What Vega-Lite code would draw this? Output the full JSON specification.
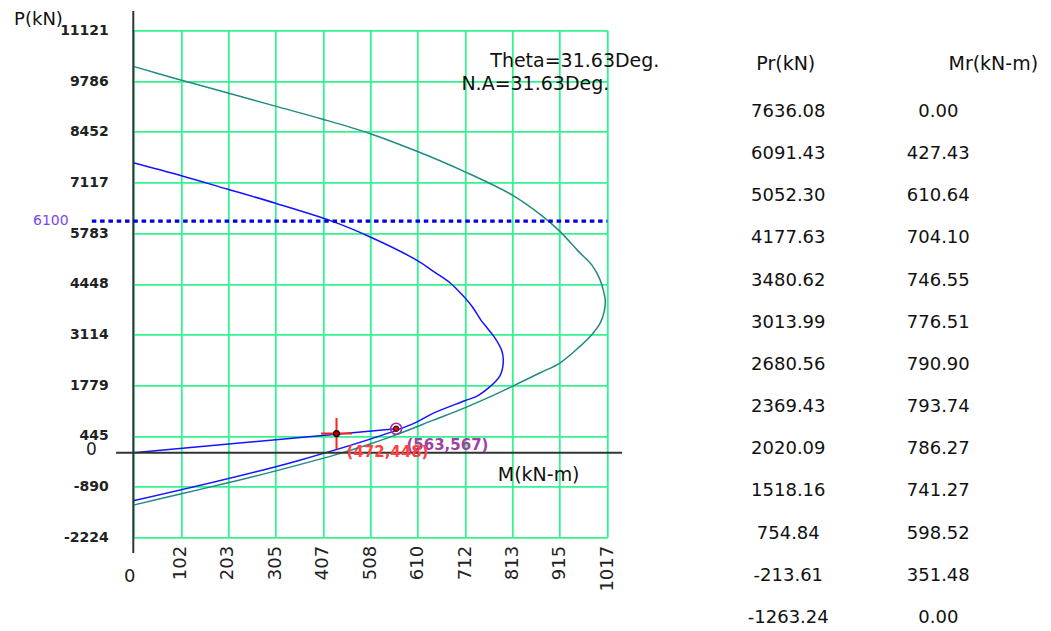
{
  "$schema": "https://vega.github.io/schema/vega-lite/v6.json",
  "background": "white",
  "padding": {"left": 13.3, "top": 9.3, "right": 0, "bottom": 0},
  "bounds": "flush",
  "spacing": 181,
  "config": {"view": {"stroke": null}, "font": "DejaVu Sans"},
  "datasets": {
    "nominal": [
      {"M": 0, "P": 10171}, {"M": 101.5, "P": 9815}, {"M": 203.2, "P": 9470}, {"M": 304.7, "P": 9125},
      {"M": 406.6, "P": 8780}, {"M": 508.5, "P": 8400}, {"M": 610, "P": 7930}, {"M": 711.7, "P": 7396},
      {"M": 813.2, "P": 6783}, {"M": 873, "P": 6275}, {"M": 914.7, "P": 5835}, {"M": 955, "P": 5302},
      {"M": 984, "P": 4940}, {"M": 1000, "P": 4598}, {"M": 1009, "P": 4256}, {"M": 1012.7, "P": 3993},
      {"M": 1010.5, "P": 3730}, {"M": 1002, "P": 3422}, {"M": 984, "P": 3116}, {"M": 959, "P": 2809},
      {"M": 916, "P": 2369}, {"M": 873, "P": 2106}, {"M": 814, "P": 1756}, {"M": 759, "P": 1438},
      {"M": 711, "P": 1184}, {"M": 644, "P": 860}, {"M": 562, "P": 466}, {"M": 500, "P": 200},
      {"M": 436.6, "P": -42}, {"M": 304, "P": -482}, {"M": 203, "P": -790}, {"M": 101, "P": -1085},
      {"M": 0, "P": -1377}
    ],
    "design": [
      {"M": 0, "P": 7636.08}, {"M": 101.5, "P": 7300}, {"M": 203, "P": 6935}, {"M": 305, "P": 6570},
      {"M": 427.43, "P": 6091.43}, {"M": 508.5, "P": 5680}, {"M": 610.64, "P": 5052.3}, {"M": 644, "P": 4775},
      {"M": 680, "P": 4470}, {"M": 704.1, "P": 4177.63}, {"M": 727, "P": 3850}, {"M": 746.55, "P": 3480.62},
      {"M": 759, "P": 3290}, {"M": 776.51, "P": 3013.99}, {"M": 790.9, "P": 2680.56}, {"M": 793.74, "P": 2369.43},
      {"M": 786.27, "P": 2020.09}, {"M": 741.27, "P": 1518.16}, {"M": 711, "P": 1370}, {"M": 644, "P": 1045},
      {"M": 598.52, "P": 754.84}, {"M": 351.48, "P": -213.61}, {"M": 0, "P": -1263.24}
    ],
    "load": [{"M": 0, "P": 0}, {"M": 564, "P": 634}],
    "table": [
      {"row": 1, "Pr": "7636.08", "Mr": "0.00"},
      {"row": 2, "Pr": "6091.43", "Mr": "427.43"},
      {"row": 3, "Pr": "5052.30", "Mr": "610.64"},
      {"row": 4, "Pr": "4177.63", "Mr": "704.10"},
      {"row": 5, "Pr": "3480.62", "Mr": "746.55"},
      {"row": 6, "Pr": "3013.99", "Mr": "776.51"},
      {"row": 7, "Pr": "2680.56", "Mr": "790.90"},
      {"row": 8, "Pr": "2369.43", "Mr": "793.74"},
      {"row": 9, "Pr": "2020.09", "Mr": "786.27"},
      {"row": 10, "Pr": "1518.16", "Mr": "741.27"},
      {"row": 11, "Pr": "754.84", "Mr": "598.52"},
      {"row": 12, "Pr": "-213.61", "Mr": "351.48"},
      {"row": 13, "Pr": "-1263.24", "Mr": "0.00"}
    ]
  },
  "hconcat": [
    {
      "width": 474,
      "height": 507,
      "layer": [
        {
          "data": {"name": "nominal"},
          "mark": {"type": "line", "color": "#208a84", "strokeWidth": 1.5, "interpolate": "catmull-rom"},
          "encoding": {
            "x": {
              "field": "M", "type": "quantitative",
              "scale": {"domain": [0, 1017], "nice": false, "zero": false},
              "axis": {
                "values": [0, 102, 203, 305, 407, 508, 610, 712, 813, 915, 1017],
                "labelExpr": "datum.value == 0 ? '' : '' + datum.value",
                "labelAngle": 270, "labelAlign": "right", "labelBaseline": "middle",
                "labelFont": "DejaVu Sans", "labelFontSize": 18, "labelColor": "#222", "labelPadding": 8,
                "labelOverlap": false, "labelFlush": false,
                "ticks": false, "domain": false,
                "grid": true, "gridColor": "#33f28f", "gridWidth": 1.8, "gridOpacity": 1,
                "title": "M(kN-m)", "titleX": 364, "titleY": -62.7, "titleAlign": "left", "titleBaseline": "middle",
                "titleAngle": 0, "titleFont": "DejaVu Sans", "titleFontSize": 19, "titleFontWeight": "normal", "titleColor": "#111"
              }
            },
            "y": {
              "field": "P", "type": "quantitative",
              "scale": {"domain": [-2224, 11121], "nice": false, "zero": false},
              "axis": {
                "values": [-2224, -890, 445, 1779, 3114, 4448, 5783, 7117, 8452, 9786, 11121],
                "labelExpr": "'' + datum.value",
                "labelFont": "DejaVu Sans", "labelFontWeight": "bold", "labelFontSize": 14, "labelColor": "#222",
                "labelPadding": 25, "labelOverlap": false, "labelFlush": false,
                "ticks": false, "domain": false,
                "grid": true, "gridColor": "#33f28f", "gridWidth": 1.8, "gridOpacity": 1,
                "title": "P(kN)", "titleX": -119.7, "titleY": -10.4, "titleAngle": 0, "titleAlign": "left",
                "titleBaseline": "middle", "titleFont": "DejaVu Sans", "titleFontSize": 18, "titleFontWeight": "normal", "titleColor": "#111"
              }
            },
            "order": {"field": "P", "sort": "descending"}
          }
        },
        {
          "data": {"name": "design"},
          "mark": {"type": "line", "color": "#1414ff", "strokeWidth": 1.5, "interpolate": "catmull-rom"},
          "encoding": {
            "x": {"field": "M", "type": "quantitative"},
            "y": {"field": "P", "type": "quantitative"},
            "order": {"field": "P", "sort": "descending"}
          }
        },
        {
          "data": {"name": "load"},
          "mark": {"type": "line", "color": "#1414ff", "strokeWidth": 1.5},
          "encoding": {
            "x": {"field": "M", "type": "quantitative"},
            "y": {"field": "P", "type": "quantitative"},
            "order": {"field": "M"}
          }
        },
        {
          "data": {"values": [{}]},
          "mark": {"type": "rule", "color": "#333", "strokeWidth": 2},
          "encoding": {"x": {"datum": 0}, "y": {"datum": 11626}, "y2": {"datum": -2640}}
        },
        {
          "data": {"values": [{}]},
          "mark": {"type": "rule", "color": "#333", "strokeWidth": 2},
          "encoding": {"x": {"datum": -37}, "x2": {"datum": 1048.5}, "y": {"datum": 0}}
        },
        {
          "data": {"values": [{"P": 6100, "label": "6100"}]},
          "layer": [
            {
              "mark": {"type": "rule", "color": "#0000e6", "strokeWidth": 3.2, "strokeDash": [4.5, 3.8]},
              "encoding": {"x": {"datum": -89}, "x2": {"datum": 1017}, "y": {"field": "P", "type": "quantitative"}}
            },
            {
              "mark": {"type": "text", "align": "right", "baseline": "middle", "dx": -64.7, "fontSize": 14, "color": "#7a48f5", "font": "DejaVu Sans"},
              "encoding": {"x": {"datum": 0}, "y": {"field": "P", "type": "quantitative"}, "text": {"field": "label"}}
            }
          ]
        },
        {
          "data": {"values": [{"t": "0"}]},
          "mark": {"type": "text", "align": "center", "baseline": "middle", "dx": -3.5, "dy": 39.3, "fontSize": 18, "color": "#222", "font": "DejaVu Sans"},
          "encoding": {"x": {"datum": 0}, "y": {"datum": -2224}, "text": {"field": "t"}}
        },
        {
          "data": {"values": [{"t": "0"}]},
          "mark": {"type": "text", "align": "center", "baseline": "middle", "dx": -42, "dy": -3, "fontSize": 17, "color": "#222", "font": "DejaVu Sans"},
          "encoding": {"x": {"datum": 0}, "y": {"datum": 0}, "text": {"field": "t"}}
        },
        {
          "data": {"values": [{"t": "Theta=31.63Deg."}]},
          "mark": {"type": "text", "align": "left", "baseline": "middle", "fontSize": 19, "color": "#111", "font": "DejaVu Sans"},
          "encoding": {"x": {"datum": 766}, "y": {"datum": 10323}, "text": {"field": "t"}}
        },
        {
          "data": {"values": [{"t": "N.A=31.63Deg."}]},
          "mark": {"type": "text", "align": "left", "baseline": "middle", "fontSize": 19, "color": "#111", "font": "DejaVu Sans"},
          "encoding": {"x": {"datum": 704}, "y": {"datum": 9705}, "text": {"field": "t"}}
        },
        {
          "data": {"values": [{"M": 564, "P": 634, "label": "(563,567)"}]},
          "layer": [
            {
              "mark": {"type": "point", "shape": "circle", "size": 120, "filled": false, "stroke": "#9b30a0", "strokeWidth": 1.6, "opacity": 1},
              "encoding": {"x": {"field": "M", "type": "quantitative"}, "y": {"field": "P", "type": "quantitative"}}
            },
            {
              "mark": {"type": "point", "shape": "circle", "size": 30, "filled": true, "fill": "#ff0000", "stroke": "#000", "strokeWidth": 1, "opacity": 1},
              "encoding": {"x": {"field": "M", "type": "quantitative"}, "y": {"field": "P", "type": "quantitative"}}
            },
            {
              "mark": {"type": "text", "align": "left", "baseline": "middle", "dx": 10.3, "dy": 16.5, "fontSize": 15, "fontWeight": "bold", "color": "#a040a0", "font": "DejaVu Sans"},
              "encoding": {"x": {"field": "M", "type": "quantitative"}, "y": {"field": "P", "type": "quantitative"}, "text": {"field": "label"}}
            }
          ]
        },
        {
          "data": {"values": [{"M": 436, "P": 505, "label": "(472,448)"}]},
          "layer": [
            {
              "mark": {"type": "point", "shape": "M-1,0H1M0,-1V1", "size": 961, "filled": false, "stroke": "#ff2020", "strokeWidth": 2, "opacity": 1},
              "encoding": {"x": {"field": "M", "type": "quantitative"}, "y": {"field": "P", "type": "quantitative"}}
            },
            {
              "mark": {"type": "point", "shape": "circle", "size": 36, "filled": true, "fill": "#b00000", "stroke": "#000", "strokeWidth": 1.2, "opacity": 1},
              "encoding": {"x": {"field": "M", "type": "quantitative"}, "y": {"field": "P", "type": "quantitative"}}
            },
            {
              "mark": {"type": "text", "align": "left", "baseline": "middle", "dx": 10, "dy": 18.7, "fontSize": 15, "fontWeight": "bold", "color": "#ff4040", "font": "DejaVu Sans"},
              "encoding": {"x": {"field": "M", "type": "quantitative"}, "y": {"field": "P", "type": "quantitative"}, "text": {"field": "label"}}
            }
          ]
        }
      ]
    },
    {
      "width": 150,
      "height": 587.5,
      "data": {"name": "table"},
      "layer": [
        {
          "mark": {"type": "text", "align": "center", "baseline": "middle", "fontSize": 18, "color": "#111", "font": "DejaVu Sans"},
          "encoding": {
            "x": {
              "datum": "Pr(kN)", "type": "nominal",
              "scale": {"type": "point", "domain": ["Pr(kN)", "Mr(kN-m)"], "padding": 0},
              "axis": {
                "orient": "top", "offset": -33, "title": null, "ticks": false, "domain": false, "grid": false,
                "labelAngle": 0, "labelFont": "DejaVu Sans", "labelFontSize": 19, "labelColor": "#111",
                "labelBaseline": "middle", "labelAlign": "center", "labelPadding": 0,
                "labelOffset": {"condition": {"test": "datum.value === 'Mr(kN-m)'", "value": 54.5}, "value": -3}
              }
            },
            "y": {"field": "row", "type": "ordinal", "scale": {"type": "point", "padding": 0.97, "align": 1}, "axis": null},
            "text": {"field": "Pr"}
          }
        },
        {
          "mark": {"type": "text", "align": "center", "baseline": "middle", "fontSize": 18, "color": "#111", "font": "DejaVu Sans"},
          "encoding": {
            "x": {"datum": "Mr(kN-m)", "type": "nominal"},
            "y": {"field": "row", "type": "ordinal"},
            "text": {"field": "Mr"}
          }
        }
      ]
    }
  ]
}
